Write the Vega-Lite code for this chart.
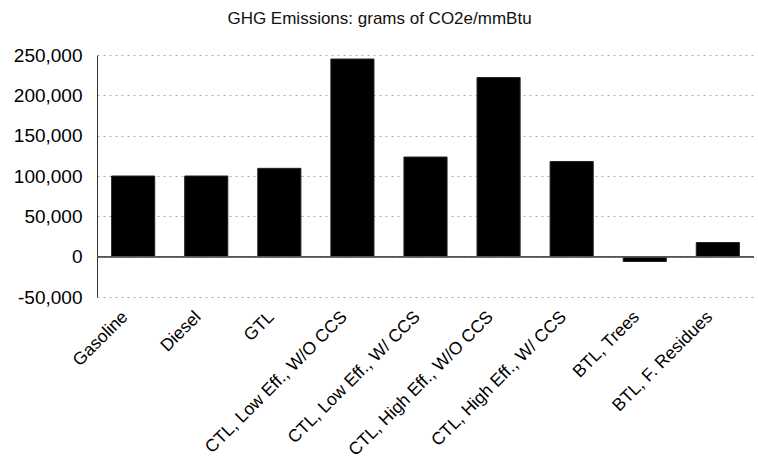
{
  "$schema": "https://vega.github.io/schema/vega-lite/v6.json",
  "width": 657,
  "height": 242,
  "autosize": {"type": "none"},
  "padding": {"left": 97, "top": 55, "right": 4, "bottom": 174},
  "background": "white",
  "title": {
    "text": "GHG Emissions: grams of CO2e/mmBtu",
    "font": "Liberation Sans",
    "fontSize": 17,
    "fontWeight": "normal",
    "color": "#111",
    "anchor": "middle",
    "dx": -46,
    "offset": 18
  },
  "data": {
    "values": [
      {"fuel": "Gasoline", "value": 100000},
      {"fuel": "Diesel", "value": 100000},
      {"fuel": "GTL", "value": 109500},
      {"fuel": "CTL, Low Eff., W/O CCS", "value": 245000},
      {"fuel": "CTL, Low Eff., W/ CCS", "value": 123500},
      {"fuel": "CTL, High Eff., W/O CCS", "value": 222000},
      {"fuel": "CTL, High Eff., W/ CCS", "value": 118000},
      {"fuel": "BTL, Trees", "value": -6000},
      {"fuel": "BTL, F. Residues", "value": 17500}
    ]
  },
  "config": {
    "view": {"stroke": null},
    "axis": {"labelFont": "Liberation Sans", "labelColor": "#000"}
  },
  "layer": [
    {
      "mark": {"type": "bar", "color": "#000", "stroke": "#222", "strokeWidth": 1},
      "encoding": {
        "x": {
          "field": "fuel",
          "type": "nominal",
          "sort": null,
          "scale": {"paddingInner": 0.41, "paddingOuter": 0.2},
          "axis": {
            "title": null,
            "labelAngle": -45,
            "labelAlign": "right",
            "labelBaseline": "middle",
            "labelFontSize": 17.5,
            "labelPadding": 17,
            "ticks": false,
            "domain": false,
            "labelOffset": -8,
            "labelLimit": 300
          }
        },
        "y": {
          "field": "value",
          "type": "quantitative",
          "scale": {"domain": [-50000, 250000], "nice": false},
          "axis": {
            "title": null,
            "values": [-50000, 0, 50000, 100000, 150000, 200000, 250000],
            "labelExpr": "replace(format(datum.value, ','), '\u2212', '-')",
            "labelFontSize": 19,
            "labelPadding": 15,
            "ticks": false,
            "domainColor": "#333",
            "grid": true,
            "gridColor": "#aaa",
            "gridDash": [2, 4],
            "gridWidth": 1
          }
        }
      }
    },
    {
      "mark": {"type": "rule", "color": "#555", "strokeWidth": 1},
      "encoding": {"y": {"datum": 0}}
    }
  ]
}
